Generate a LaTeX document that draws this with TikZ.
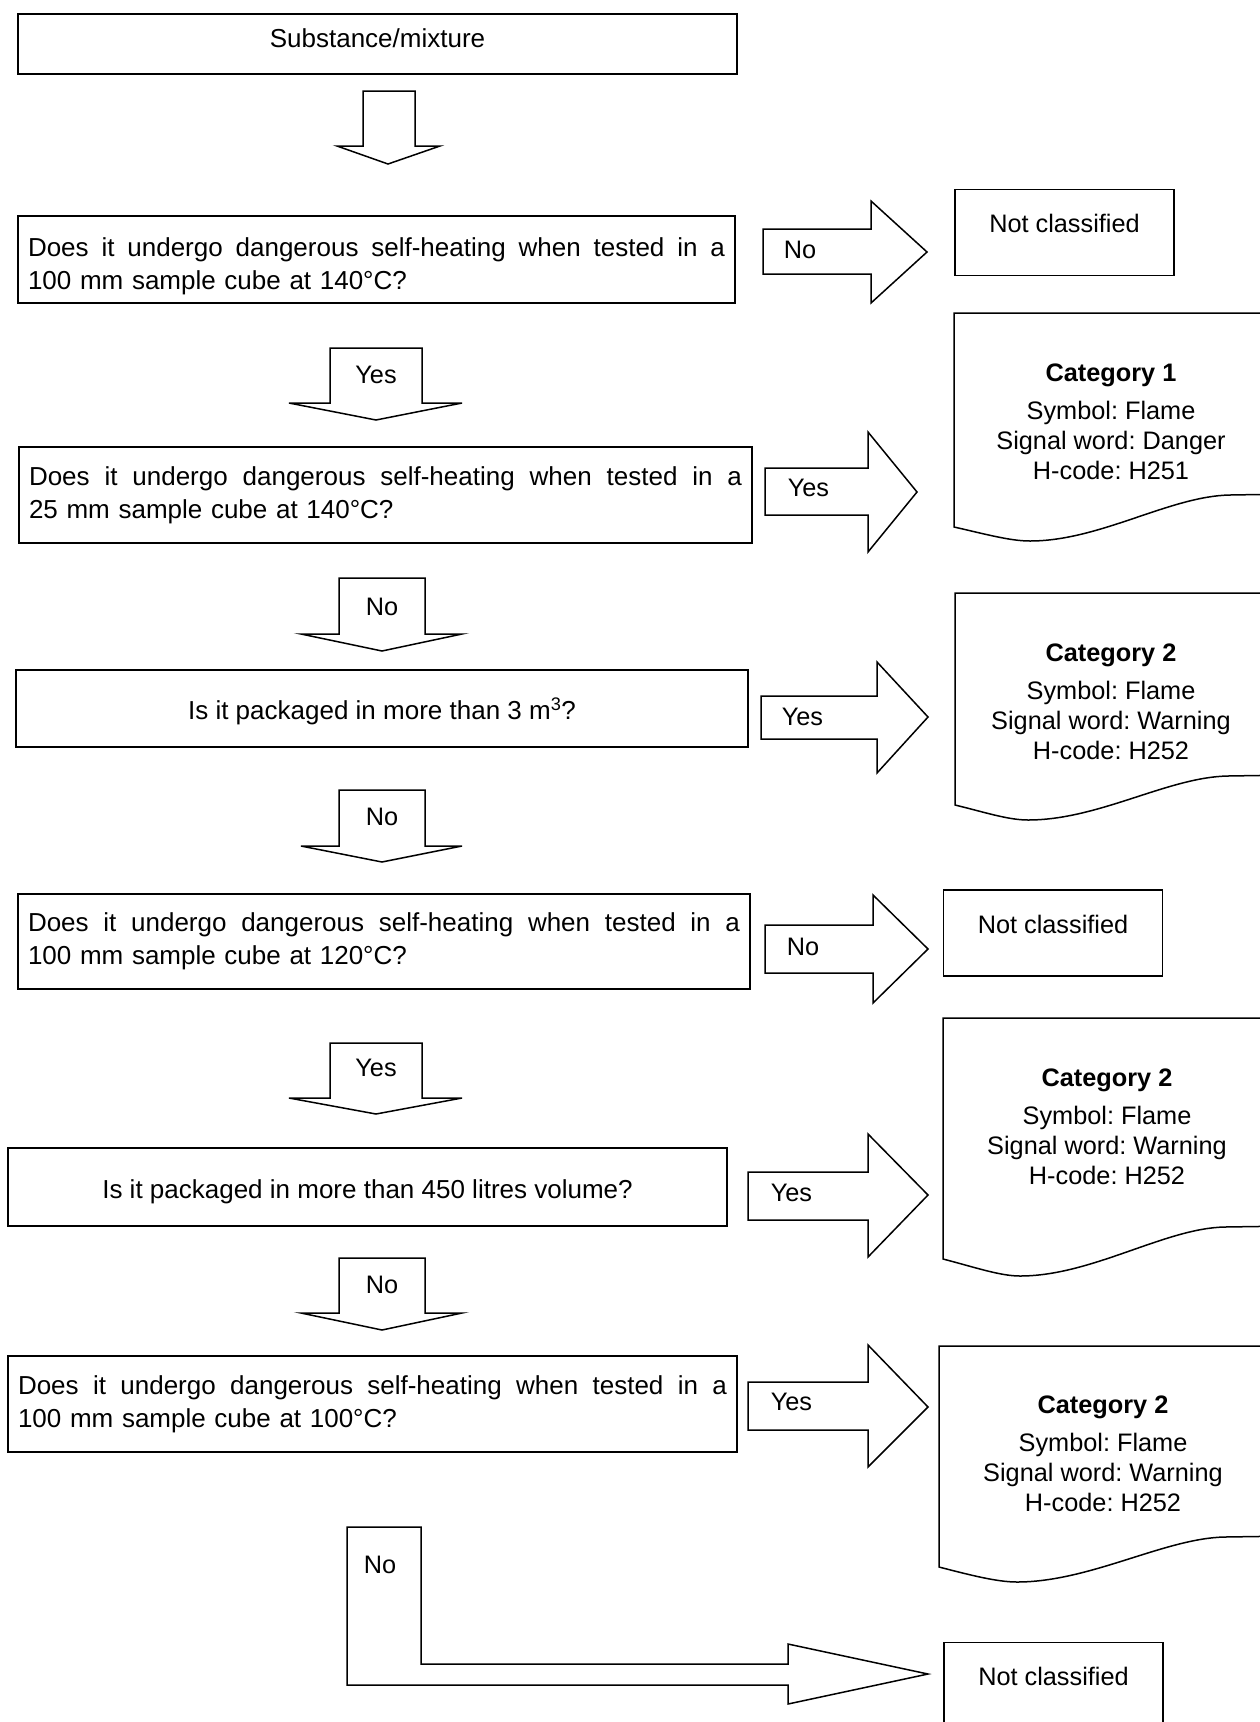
\documentclass[tikz,border=0pt]{standalone}
\usepackage{fontspec}
\setmainfont{Liberation Sans}
% first line of a question, spread over the full box width
\newcommand{\fullline}[2]{\makebox[#1][s]{\spaceskip=.278em plus 1fil\relax #2}}

\begin{document}
\frenchspacing
\begin{tikzpicture}[
		x=1pt, y=-1pt,
		line width=1.5pt,
		font=\fontsize{26}{33}\selectfont,
		box/.style={draw, line width=1.5pt, inner sep=0pt},
		qbox/.style={box, align=left},
		ncbox/.style={box, minimum width=219pt, minimum height=86pt,
			text height=20pt, text depth=20pt, font=\fontsize{25.3}{30}\selectfont},
		blk/.style={draw, line width=1.5pt, line join=miter},
		doc/.style={draw, line width=1.5pt},
		cat/.style={anchor=north, align=center, inner sep=0pt, font=\fontsize{25.3}{30}\selectfont},
		lbl/.style={inner sep=0pt, font=\fontsize{25.3}{30}\selectfont}
	]

	\useasboundingbox (0,0) rectangle (1260,1722);
	\clip (0,0) rectangle (1260,1722);

	%% 1. Start
	\node[box, minimum width=719pt, minimum height=60pt, text height=19pt, text depth=13pt]
		(subst) at (377.5,44) {Substance/mixture};
	\draw[blk] (363,91) -- (415,91) -- (415,146) -- (440,146) -- (388,164) -- (337,146) -- (363,146) -- cycle;

	%% 2. 100 mm cube at 140 C
	\node[qbox, minimum width=717pt, minimum height=87pt, text width=697pt] (q1) at (376.5,259.5)
		{\fullline{697pt}{\rule{0pt}{32pt}Does it undergo dangerous self-heating when tested in a}\\
		100 mm sample cube at 140°C?};
	\draw[blk] (763,229) -- (871,229) -- (871,201) -- (927,252) -- (871,303) -- (871,274) -- (763,274) -- cycle;
	\node[lbl, anchor=west] (no1) at (783,250) {No};
	\node[ncbox] (nc1) at (1064.5,232.5) {Not classified};

	\draw[blk] (330,348) -- (422,348) -- (422,403) -- (462,403) -- (376,420) -- (289,403) -- (330,403) -- cycle;
	\node[lbl] (yes1) at (376,375) {Yes};

	%% 3. 25 mm cube at 140 C
	\node[qbox, minimum width=733pt, minimum height=96pt, text width=713pt] (q2) at (385.5,495)
		{\fullline{713pt}{Does it undergo dangerous self-heating when tested in a}\\
		25 mm sample cube at 140°C?};
	\draw[blk] (765,468) -- (868,468) -- (868,432) -- (917,492) -- (868,552) -- (868,515) -- (765,515) -- cycle;
	\node[lbl, anchor=west] (yes2) at (787,488) {Yes};

	% Category 1 sheet
	\draw[doc] (954,313) -- (1290,313) -- (1290,494) -- (1230,495)
		.. controls (1170,496) and (1100,541) .. (1030,541)
		.. controls (1010,541) and (985,534) .. (954,527) -- cycle;
	\node[cat] (cat1) at (1111,363)
		{\textbf{Category 1}\\[8pt]Symbol: Flame\\Signal word: Danger\\H-code: H251};

	\draw[blk] (339,578) -- (425,578) -- (425,634) -- (462,634) -- (382,651) -- (301,634) -- (339,634) -- cycle;
	\node[lbl] (no2) at (382,607) {No};

	%% 4. more than 3 m3
	\node[qbox, minimum width=732pt, minimum height=77pt, text height=22pt, text depth=0pt]
		(q3) at (382,708.5) {Is it packaged in more than 3 m\textsuperscript{3}?};
	\draw[blk] (761,696) -- (877,696) -- (877,662) -- (928,717) -- (877,773) -- (877,739) -- (761,739) -- cycle;
	\node[lbl, anchor=west] (yes3) at (781,717) {Yes};

	% Category 2 sheet (a)
	\draw[doc] (955,593) -- (1290,593) -- (1290,775) -- (1228,776)
		.. controls (1168,777) and (1099,820) .. (1028,820)
		.. controls (1008,820) and (984,812) .. (955,805) -- cycle;
	\node[cat] (cat2a) at (1111,643)
		{\textbf{Category 2}\\[8pt]Symbol: Flame\\Signal word: Warning\\H-code: H252};

	\draw[blk] (339,790) -- (425,790) -- (425,846) -- (462,846) -- (382,862) -- (301,846) -- (339,846) -- cycle;
	\node[lbl] (no3) at (382,817) {No};

	%% 5. 100 mm cube at 120 C
	\node[qbox, minimum width=732pt, minimum height=95pt, text width=712pt] (q4) at (384,941.5)
		{\fullline{712pt}{Does it undergo dangerous self-heating when tested in a}\\
		100 mm sample cube at 120°C?};
	\draw[blk] (765,925) -- (873,925) -- (873,895) -- (928,949) -- (873,1003) -- (873,973) -- (765,973) -- cycle;
	\node[lbl, anchor=west] (no4) at (786,947) {No};
	\node[ncbox] (nc2) at (1053,933) {Not classified};

	\draw[blk] (330,1043) -- (422,1043) -- (422,1098) -- (462,1098) -- (376,1114) -- (289,1098) -- (330,1098) -- cycle;
	\node[lbl] (yes4) at (376,1068) {Yes};

	%% 6. more than 450 litres
	\node[qbox, minimum width=719pt, minimum height=78pt, text height=22pt, text depth=0pt]
		(q5) at (367.5,1187) {Is it packaged in more than 450 litres volume?};
	\draw[blk] (748,1172) -- (868,1172) -- (868,1134) -- (928,1195) -- (868,1257) -- (868,1220) -- (748,1220) -- cycle;
	\node[lbl, anchor=west] (yes5) at (770,1193) {Yes};

	% Category 2 sheet (b)
	\draw[doc] (943,1018) -- (1290,1018) -- (1290,1226) -- (1225,1227)
		.. controls (1165,1228) and (1092,1276) .. (1020,1276)
		.. controls (1000,1276) and (974,1267) .. (943,1259) -- cycle;
	\node[cat] (cat2b) at (1107,1068)
		{\textbf{Category 2}\\[8pt]Symbol: Flame\\Signal word: Warning\\H-code: H252};

	\draw[blk] (339,1258) -- (425,1258) -- (425,1313) -- (462,1313) -- (382,1330) -- (301,1313) -- (339,1313) -- cycle;
	\node[lbl] (no5) at (382,1285) {No};

	%% 7. 100 mm cube at 100 C
	\node[qbox, minimum width=729pt, minimum height=96pt, text width=709pt] (q6) at (372.5,1404)
		{\fullline{709pt}{Does it undergo dangerous self-heating when tested in a}\\
		100 mm sample cube at 100°C?};
	\draw[blk] (748,1382) -- (868,1382) -- (868,1345) -- (928,1407) -- (868,1467) -- (868,1430) -- (748,1430) -- cycle;
	\node[lbl, anchor=west] (yes6) at (770,1402) {Yes};

	% Category 2 sheet (c)
	\draw[doc] (939,1346) -- (1290,1346) -- (1290,1536) -- (1225,1537)
		.. controls (1165,1538) and (1090,1582) .. (1017,1582)
		.. controls (997,1582) and (970,1575) .. (939,1567) -- cycle;
	\node[cat] (cat2c) at (1103,1395)
		{\textbf{Category 2}\\[8pt]Symbol: Flame\\Signal word: Warning\\H-code: H252};

	%% 8. Last "No" (bent arrow)
	\draw[blk] (347,1527) -- (421,1527) -- (421,1664) -- (788,1664) -- (788,1644) -- (928,1674)
		-- (788,1704) -- (788,1685) -- (347,1685) -- cycle;
	\node[lbl] (no6) at (380,1565) {No};
	\node[ncbox] (nc3) at (1053.5,1685.5) {Not classified};

\end{tikzpicture}
\end{document}
